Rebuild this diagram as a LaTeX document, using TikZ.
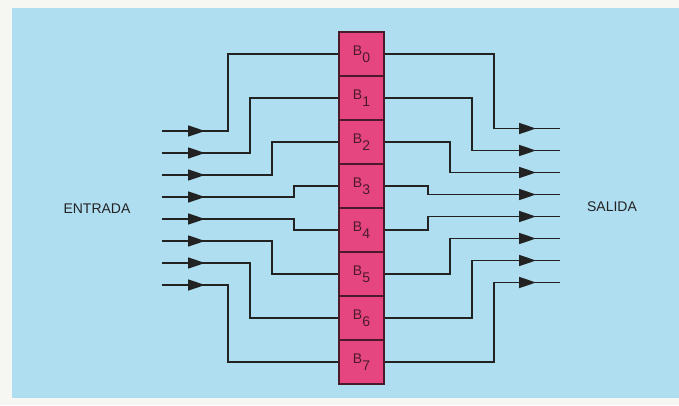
\documentclass[tikz,border=0pt]{standalone}
\usepackage{fontspec}
\setmainfont{Liberation Sans}
\usetikzlibrary{arrows.meta,decorations.markings}
\definecolor{panelblue}{HTML}{B0DEF1}
\definecolor{cellpink}{HTML}{E6467F}
\definecolor{celledge}{HTML}{4A1A2A}
\definecolor{ink}{HTML}{222222}
\definecolor{paper}{HTML}{F6F7F3}
\tikzset{
  wire/.style={draw=ink,line width=1.7pt},
  inarrow/.style={wire,postaction={decorate},decoration={markings,mark=at position 43pt with {\arrow{Triangle[length=17pt,width=11pt]}}}},
  outarrow/.style={wire,postaction={decorate},decoration={markings,mark=at position -24pt with {\arrow{Triangle[length=17pt,width=11pt]}}}},
  cell/.style={draw=celledge,fill=cellpink,line width=1.6pt,minimum width=45pt,minimum height=44pt,inner sep=0pt,font=\fontsize{14}{14}\selectfont,text=celledge},
  lbl/.style={font=\fontsize{14}{14}\selectfont,text=ink}
}
\newcommand{\bitlbl}[1]{B\raisebox{-7pt}{#1}}
\begin{document}
\begin{tikzpicture}[x=1pt,y=-1pt]
\useasboundingbox (0,0) rectangle (679,405);
\fill[paper] (0,0) rectangle (679,405);
\fill[panelblue] (12,8) rectangle (679,398);
% register cells
\foreach \k in {0,...,7}{
  \node[cell] (B\k) at (361.5,{54+44*\k}) {\bitlbl{\k}};
}
% input and output coordinates
\foreach \k in {0,...,7}{
  \coordinate (i\k) at (162,{131+22*\k});
  \coordinate (o\k) at (560,{128.5+22*\k});
}
% step x positions
\def\lx{{228,250,272,294,294,272,250,228}}
\def\rx{{494,472,450,428,428,450,472,494}}
\foreach \k in {0,...,7}{
  \pgfmathsetmacro{\a}{\lx[\k]}
  \pgfmathsetmacro{\b}{\rx[\k]}
  \draw[inarrow] (i\k) -- (\a,{131+22*\k}) |- (B\k.west);
  \draw[outarrow] (B\k.east) -| (\b,{128.5+22*\k}) -- (o\k);
}
\node[lbl] (entrada) at (97,208.5) {ENTRADA};
\node[lbl] (salida) at (612,207) {SALIDA};
\end{tikzpicture}
\end{document}
